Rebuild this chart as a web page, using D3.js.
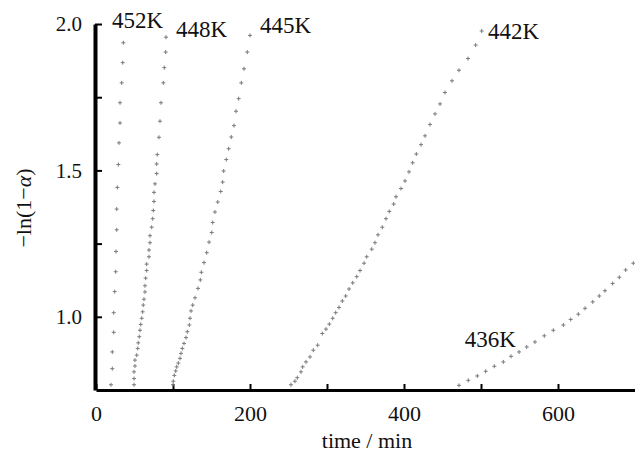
<!DOCTYPE html>
<html>
<head>
<meta charset="utf-8">
<script src="https://d3js.org/d3.v7.min.js"></script>
<style>
  body { margin: 0; background: #fff; }
  svg text { font-family: "Times New Roman", "Liberation Serif", Tinos, "DejaVu Serif", serif !important; fill: #111; }
</style>
</head>
<body>
<script>
// Kinetics data: -ln(1-alpha) vs time (min)
var s452 = [[19.5,0.768],[21.2,0.823],[21.2,0.880],[23.0,0.947],[23.0,1.014],[24.3,1.086],
  [25.6,1.154],[26.0,1.223],[26.9,1.297],[26.9,1.368],[27.7,1.442],[29.0,1.520],[29.9,1.594],
  [31.2,1.662],[31.2,1.731],[33.4,1.799],[34.7,1.868],[35.5,1.936]];

var s448 = [[49.4,0.768],[49.4,0.789],[49.4,0.812],[50.6,0.832],[50.6,0.852],[52.9,0.869],
  [54.2,0.892],[54.9,0.911],[56.2,0.932],[57.1,0.954],[58.1,0.974],[59.4,0.995],[60.6,1.017],
  [61.4,1.040],[62.3,1.060],[63.6,1.085],[63.6,1.106],[64.5,1.132],[65.8,1.158],[65.8,1.180],
  [68.8,1.205],[68.8,1.228],[70.1,1.253],[70.1,1.277],[72.3,1.306],[73.6,1.335],[74.4,1.363],
  [75.3,1.394],[75.3,1.425],[76.6,1.454],[78.8,1.489],[78.8,1.522],[79.6,1.554],[81.8,1.613],
  [83.1,1.668],[84.4,1.731],[87.4,1.799],[88.7,1.851],[90.5,1.904],[90.9,1.955]];

var s445 = [[100.0,0.768],[100.4,0.780],[101.7,0.800],[103.5,0.815],[104.8,0.829],[106.9,0.842],
  [109.1,0.858],[110.4,0.875],[112.1,0.892],[114.3,0.909],[116.9,0.929],[118.6,0.949],
  [121.2,0.972],[122.1,0.995],[123.4,1.020],[125.6,1.040],[128.6,1.065],[132.5,1.097],
  [135.5,1.126],[136.8,1.152],[140.3,1.185],[143.8,1.219],[146.8,1.255],[150.3,1.288],
  [151.6,1.322],[154.5,1.358],[158.1,1.392],[162.0,1.428],[164.5,1.460],[165.8,1.498],
  [169.2,1.537],[172.3,1.574],[175.7,1.614],[179.2,1.653],[181.8,1.702],[185.3,1.745],
  [188.7,1.799],[192.2,1.847],[196.5,1.904],[200.0,1.961]];

var s442 = [[253.2,0.768],[258.4,0.780],[261.4,0.792],[266.2,0.812],[268.4,0.829],[272.7,0.846],
  [277.9,0.863],[282.2,0.886],[287.9,0.903],[293.9,0.943],[298.7,0.958],[303.0,0.975],
  [307.4,0.995],[311.3,1.014],[315.6,1.032],[319.9,1.054],[324.3,1.071],[328.6,1.095],
  [333.4,1.116],[338.6,1.137],[342.9,1.158],[348.1,1.183],[351.6,1.205],[358.1,1.231],
  [362.3,1.253],[366.2,1.280],[371.8,1.306],[376.6,1.335],[380.9,1.360],[386.6,1.385],
  [389.6,1.410],[396.1,1.438],[401.3,1.464],[406.5,1.495],[411.3,1.526],[416.0,1.556],
  [422.1,1.588],[427.3,1.618],[433.8,1.657],[440.3,1.693],[446.8,1.727],[453.2,1.766],
  [462.3,1.806],[471.4,1.842],[483.1,1.882],[493.1,1.928],[500.9,1.976]];

var s436 = [[471.4,0.766],[483.5,0.783],[495.2,0.798],[506.1,0.814],[517.3,0.831],[529.0,0.846],
  [539.0,0.865],[549.4,0.880],[559.4,0.897],[570.1,0.914],[582.2,0.935],[593.9,0.954],
  [606.9,0.972],[616.5,0.991],[626.4,1.009],[635.1,1.029],[645.1,1.051],[653.6,1.071],
  [661.0,1.089],[671.0,1.114],[679.6,1.135],[687.9,1.160],[697.8,1.183]];

// temperature labels and where they sit (data coords)
var tempNames = ["452K", "448K", "445K", "442K", "436K"];
var labelT = [20.8, 104, 213, 509, 479];
var labelV = [1.986, 1.956, 1.969, 1.949, 0.897];

var xTicks = [0, 100, 200, 300, 400, 500, 600];
var yTicks = [1.0, 1.25, 1.5, 1.75, 2.0];

var width = 635, height = 454;

var x = d3.scaleLinear().domain([0, 700]).range([96, 635]);
var y = d3.scaleLinear().domain([0.75, 2.0]).range([390, 24]);

var svg = d3.select("body").append("svg")
            .attr("width", width)
            .attr("height", height);

// x axis, ticks point inward
var xAxis = d3.axisBottom(x)
              .tickValues(xTicks)
              .tickSize(-6)
              .tickSizeOuter(0)
              .tickPadding(15)
              .tickFormat(d => d % 200 === 0 ? d : "");

var gx = svg.append("g")
   .attr("transform", "translate(0,390)")
   .call(xAxis)
   .attr("font-family", null);
gx.select(".domain").attr("stroke", "#000").attr("stroke-width", 3);
gx.selectAll(".tick line").attr("stroke", "#000").attr("stroke-width", 2);
gx.selectAll(".tick text").attr("font-size", 22);

var yAxis = d3.axisLeft(y)
              .tickValues(yTicks)
              .tickSize(-7)
              .tickSizeOuter(0)
              .tickPadding(13)
              .tickFormat(d => (d * 2) % 1 === 0 ? d3.format(".1f")(d) : "");

var gy = svg.append("g")
   .attr("transform", "translate(95,0)")
   .call(yAxis)
   .attr("font-family", null);
gy.select(".domain").attr("stroke", "#000").attr("stroke-width", 4);
gy.selectAll(".tick line").attr("stroke", "#000").attr("stroke-width", 2);
gy.selectAll(".tick text").attr("font-size", 21);

// points, drawn as small crosses
var allSeries = [s452, s448, s445, s442, s436];
var cross = "M-2,0h4M0,-2v4";

svg.selectAll(".series")
   .data(allSeries)
   .enter()
   .append("g")
   .attr("class", "series")
   .selectAll("path")
   .data(d => d)
   .enter()
   .append("path")
   .attr("d", cross)
   .attr("transform", d => "translate(" + x(d[0]) + "," + y(d[1]) + ")")
   .attr("stroke", "#7a7a7a")
   .attr("stroke-width", 1)
   .attr("fill", "none");

// temperature labels
svg.selectAll(".temp")
   .data(tempNames)
   .enter()
   .append("text")
   .attr("class", "temp")
   .attr("x", (d, i) => x(labelT[i]))
   .attr("y", (d, i) => y(labelV[i]))
   .attr("font-size", 23)
   .text(d => d);

// axis titles
svg.append("text")
   .attr("x", 367)
   .attr("y", 448)
   .attr("text-anchor", "middle")
   .attr("font-size", 22)
   .text("time / min");

var yl = svg.append("text")
   .attr("transform", "translate(31,208) rotate(-90)")
   .attr("text-anchor", "middle")
   .attr("font-size", 22);
yl.append("tspan").text("\u2212ln(1\u2212");
yl.append("tspan").attr("font-style", "italic").text("\u03b1");
yl.append("tspan").text(")");
</script>
</body>
</html>
